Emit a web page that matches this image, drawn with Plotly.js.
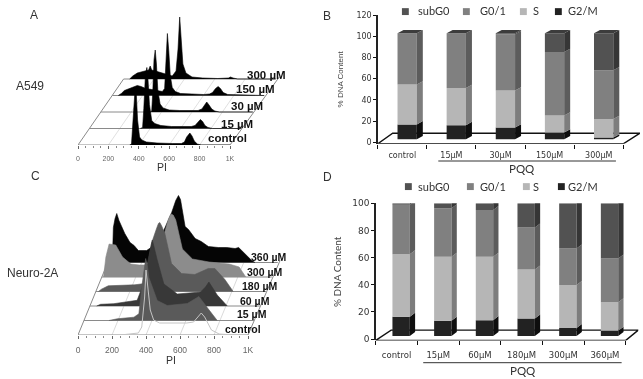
<!DOCTYPE html>
<html><head><meta charset="utf-8">
<script src="https://cdn.plot.ly/plotly-3.0.1.min.js"></script>
<style>html,body{margin:0;padding:0;background:#fff;overflow:hidden}#chart{width:643px;height:379px;filter:blur(0.55px)}</style>
</head><body><div id="chart"></div>
<script>
// ---------- Panel A histograms (A549): PI position, height ----------
const aLabels = ['control','15 µM','30 µM','150 µM','300 µM'];
const aControlPi = [340,352,360,370,376,384,392,405,420,450,520,620,680,700,715,736,750,765,785,810,1000];
const aControlN  = [0,1,20,50,57,50,25,8,5,3,2,1.5,1.5,3,8,12,9,4,1,0,0];
const a15Pi = [335,350,358,368,378,386,395,410,430,470,540,640,670,695,715,730,745,760,780,810,1000];
const a15N  = [0,1,20,52,61,48,24,8,5,3,2,2,2,3,7,9,7,3,1,0,0];
const a30Pi = [325,335,342,350,358,366,375,390,410,450,520,600,640,665,685,697,712,730,750,780,1000];
const a30N  = [0,1,20,52,62,48,22,8,4,2,1.5,1.5,1.5,3,8,10,7,3,1,0,0];
const a150Pi = [40,60,80,110,140,165,190,220,260,300,330,345,355,363,372,382,395,415,450,520,600,640,660,680,697,712,730,760,1000];
const a150N  = [0,2,5,7,9,10,9,7,6,5,4,7,35,62,45,20,8,4,2,1.5,1,1.5,3,7,9,7,3,1,0];
const a300Pi = [40,60,90,130,160,165,175,185,210,250,290,320,345,358,369,378,390,410,450,520,620,690,703,720,750,1000];
const a300N  = [0,3,6,8,9,9,13,9,8,6,4,3,8,30,62,40,15,6,2,1,0.5,1,2,1,0,0];

// ---------- Panel C histograms (Neuro-2A) ----------
const cLabels = ['control','15 µM','60 µM','180 µM','300 µM','360 µM'];
const cControlPi = [250,320,355,375,392,400,408,425,445,480,640,680,725,745,785,830,920];
const cControlN  = [0,1,2,8,38,65,52,25,15,12,12,13,22,18,5,1,0];
const c15Pi = [147,196,294,323,343,355,363,372,382,431,490,608,676,725,784];
const c15N  = [0,1.7,3.3,6.7,37,56,62,56,43,20,15,17,24,13,0];
const c60Pi = [40,63,141,278,308,347,358,367,376,396,435,514,651,680,700,720,749,808];
const c60N  = [0,1.7,2.3,5.7,19,52,62,66,60,46,22,12,14,19,24,19,11,0];
const c180Pi = [15,33,73,229,288,327,355,368,376,386,406,445,504,582,661,700,759,808];
const c180N  = [0,2.3,5.7,6.7,8,48,62,68,69,66,58,28,18,17,23,23,12,0];
const c300Pi = [10,24,43,82,122,171,220,278,337,376,392,406,420,435,474,533,631,749,808,847];
const c300N  = [0,20,33,32,20,13,12,12,25,47,58,63,62,57,28,18,15,13,10,0];
const c360Pi = [27,33,43,53,66,82,100,131,155,180,229,298,376,400,416,428,455,475,514,550,592,650,700,749,770,788,847,866];
const c360N  = [0,35,44,49,42,35,29,20,17,12,12,20,50,62,67,63,36,33,24,21,16,15,15,14,15,12,2,0];

// ---------- Panel B stacked bars ----------
const bCategories = ['control','15µM','30µM','150µM','300µM'];
const bG2M  = [14,13.3,11,6.3,1.6];
const bS    = [37.6,35,35,16,17.4];
const bG01  = [48.4,51.7,53,60,46];
const bSub  = [0,0,1,17.7,35];

// ---------- Panel D stacked bars ----------
const dCategories = ['control','15µM','60µM','180µM','300µM','360µM'];
const dG2M  = [14.6,11.6,12,13.3,6,4];
const dS    = [47,48.2,47.8,36.9,32.4,21.4];
const dG01  = [37.4,36.4,35.2,31.5,27.6,33.1];
const dSub  = [1,3.8,5,18.3,34,41.5];

const histTicks = [0,200,400,600,800,1000];
const histTickText = ['0','200','400','600','800','1K'];
const minorTicks = [0,50,100,150,200,250,300,350,400,450,500,550,600,650,700,750,800,850,900,950,1000];
const stackNames = ['G2/M','S','G0/1','subG0'];
const stackFront = ['#222222','#b6b6b6','#808080','#525252'];
const stackSide  = ['#0e0e0e','#7d7d7d','#5c5c5c','#363636'];
const lidColor = '#3c3c3c';

const W = 643, H = 379;
const fx = p => p / W, fy = p => 1 - p / H;
const traces = [], annotations = [], shapes = [];

function ridge(ax, ay, rows, dxUnits, dyUnits, colors, lineColors, gridColor, baseColor) {
  const n = rows.length;
  histTicks.forEach(t => {
    if (t === 0 || t === 1000) return;
    traces.push({type:'scatter',mode:'lines',xaxis:ax,yaxis:ay,hoverinfo:'skip',showlegend:false,
      x:[t, t + dxUnits*(n-1)], y:[0, dyUnits*(n-1)], line:{color:gridColor,width:0.8}});
  });
  traces.push({type:'scatter',mode:'lines',xaxis:ax,yaxis:ay,hoverinfo:'skip',showlegend:false,
    x:[0, dxUnits*(n-1)], y:[0, dyUnits*(n-1)], line:{color:baseColor,width:1}});
  traces.push({type:'scatter',mode:'lines',xaxis:ax,yaxis:ay,hoverinfo:'skip',showlegend:false,
    x:[1000, 1000 + dxUnits*(n-1)*1.08], y:[0, dyUnits*(n-1)*1.03], line:{color:baseColor,width:1}});
  for (let r = n-1; r >= 0; r--) {
    const row = rows[r];
    const x0 = r*dxUnits, y0 = r*dyUnits;
    traces.push({type:'scatter',mode:'lines',xaxis:ax,yaxis:ay,hoverinfo:'skip',showlegend:false,
      x:[x0, x0+1000], y:[y0,y0], line:{color:baseColor,width:1}});
    const xs = row.pi.map(v => v + x0), ys = row.n.map(v => v + y0);
    const t = {type:'scatter',mode:'lines',name:row.name,xaxis:ax,yaxis:ay,showlegend:false,
      x: xs, y: ys, line:{color:lineColors[r],width: colors[r] ? 0.6 : 1}};
    if (colors[r]) { t.fill='toself'; t.fillcolor=colors[r]; }
    traces.push(t);
  }
}

ridge('x','y',
  [{name:aLabels[0],pi:aControlPi,n:aControlN},{name:aLabels[1],pi:a15Pi,n:a15N},{name:aLabels[2],pi:a30Pi,n:a30N},
   {name:aLabels[3],pi:a150Pi,n:a150N},{name:aLabels[4],pi:a300Pi,n:a300N}],
  75, 16.5, ['#000','#000','#000','#000','#000'], ['#000','#000','#000','#000','#000'], '#d8d8d8', '#8a8a8a');

ridge('x3','y3',
  [{name:cLabels[0],pi:cControlPi,n:cControlN},{name:cLabels[1],pi:c15Pi,n:c15N},{name:cLabels[2],pi:c60Pi,n:c60N},
   {name:cLabels[3],pi:c180Pi,n:c180N},{name:cLabels[4],pi:c300Pi,n:c300N},{name:cLabels[5],pi:c360Pi,n:c360N}],
  35, 14.5, [null,'#5a5a5a','#383838','#5a5a5a','#8c8c8c','#050505'],
  ['#c4c4c4','#5a5a5a','#383838','#5a5a5a','#8c8c8c','#050505'], '#d0d0d0', '#8a8a8a');

function stacked(ax, ay, cats, series, opts) {
  const {shift, width, dx, dy, lift, scale} = opts;
  const idx = cats.map((_, i) => i);
  const cum = idx.map(() => lift);
  series.forEach((vals, s) => {
    const bases = cum.slice();
    const hts = vals.map(v => v * scale);
    traces.push({type:'bar',name:stackNames[s],xaxis:ax,yaxis:ay,showlegend:false,cliponaxis:false,
      x: idx.map(i => i + shift), y: hts, base: bases, width: width,
      marker:{color:stackFront[s],line:{width:0}}});
    const sx = [], sy = [];
    idx.forEach(i => {
      if (hts[i] <= 0) return;
      const xr = i + shift + width/2, a = bases[i], b = bases[i] + hts[i];
      sx.push(xr, xr+dx, xr+dx, xr, xr, null);
      sy.push(a, a+dy, b+dy, b, a, null);
    });
    traces.push({type:'scatter',mode:'lines',xaxis:ax,yaxis:ay,hoverinfo:'skip',showlegend:false,cliponaxis:false,
      x:sx,y:sy,fill:'toself',fillcolor:stackSide[s],line:{width:0,color:stackSide[s]}});
    idx.forEach(i => { cum[i] += hts[i]; });
  });
  const lx = [], ly = [];
  idx.forEach(i => {
    const xl = i + shift - width/2, xr = i + shift + width/2, t = cum[i];
    lx.push(xl, xl+dx, xr+dx, xr, xl, null);
    ly.push(t, t+dy, t+dy, t, t, null);
  });
  traces.push({type:'scatter',mode:'lines',xaxis:ax,yaxis:ay,hoverinfo:'skip',showlegend:false,cliponaxis:false,
    x:lx,y:ly,fill:'toself',fillcolor:lidColor,line:{width:0,color:lidColor}});
}
stacked('x2','y2',bCategories,[bG2M,bS,bG01,bSub],{shift:0.1,width:0.393,dx:0.122,dy:3.1,lift:2.8,scale:1});
stacked('x4','y4',dCategories,[dG2M,dS,dG01,dSub],{shift:0.11,width:0.417,dx:0.127,dy:2.95,lift:2.2,scale:0.978});

function floor(xr, yr, xl0, xl1, xr0, xr1, y0, y1) {
  shapes.push({type:'path',layer:'below',xref:xr,yref:yr,
    path:`M${xl0},${y0} L${xr0},${y0} L${xr1},${y1} L${xl1},${y1} Z`,
    line:{color:'#111',width:1.4},fillcolor:'rgba(0,0,0,0)'});
}
floor('x2','y2',-0.5,-0.195,4.5,4.84,-1.5,8.5);
floor('x4','y4',-0.5,-0.13,5.5,5.8,-1,6.6);

shapes.push({type:'line',xref:'x2',yref:'paper',x0:0.734,x1:4.35,y0:fy(161),y1:fy(161),line:{color:'#333',width:1}});
shapes.push({type:'line',xref:'x4',yref:'paper',x0:0.64,x1:5.4,y0:fy(362.7),y1:fy(362.7),line:{color:'#333',width:1}});

function label(text, x, y, size, opt) {
  annotations.push(Object.assign({text, xref:'paper', yref:'paper', x:fx(x), y:fy(y), showarrow:false,
    xanchor:'center', yanchor:'middle', borderpad:0,
    font:{family:'Liberation Sans, Arial, sans-serif', size, color:'#333'}}, opt||{}));
}
const bold = t => '<b>'+t+'</b>';
const blackFont = s => ({font:{family:'Liberation Sans, Arial, sans-serif', size:s, color:'#111'}});

label('A',34,15,12); label('B',327,16,12); label('C',35,176,12); label('D',327,177,12);
label('A549',30,86,12); label('Neuro-2A',32,273,12);
label('PI',162,167,10.5); label('PI',171,360,10.5);

[[227,138],[237,124],[247,106],[255,88.7],[266,75]].forEach((p,i)=>label(bold(aLabels[i]),p[0],p[1],11.5,blackFont(11.5)));
[[243,329],[252,314.3],[255,300.7],[259,286],[264,271.7],[268,257.3]].forEach((p,i)=>label(bold(cLabels[i]),p[0],p[1],10.5,blackFont(10.5)));

label('PQQ',522,168,11,{font:{family:'Lato, sans-serif',size:11.5,color:'#333'}});
label('PQQ',523,370,11,{font:{family:'Lato, sans-serif',size:11.5,color:'#333'}});

function legend(y, swatchX) {
  const names = ['subG0','G0/1','S','G2/M'];
  const colors = [stackFront[3],stackFront[2],stackFront[1],stackFront[0]];
  const textX = [416.7,479,532,567];
  names.forEach((nm,i) => {
    label('■',swatchX[i],y,9,{font:{family:'DejaVu Sans',size:9,color:colors[i]}});
    label(nm,textX[i],y,11,{xanchor:'left',font:{family:'Lato, sans-serif',size:11,color:'#333'}});
  });
}
legend(11,[405.7,466.7,523,558]);
legend(186,[408,470,526,561]);

const tickFontB = {family:'DejaVu Sans, sans-serif',size:8,color:'#333'};
const tickFontD = {family:'DejaVu Sans, sans-serif',size:9,color:'#333'};
const boundaries = n => Array.from({length:n+1},(_, i)=>i-0.5);

const layout = {
  width:W, height:H, margin:{l:0,r:0,t:0,b:0}, paper_bgcolor:'#fff', plot_bgcolor:'rgba(0,0,0,0)',
  showlegend:false, barmode:'overlay', shapes, annotations, hovermode:false,
  // A
  xaxis:{domain:[fx(78),fx(78+152*1.5)],range:[0,1500],anchor:'y',tickmode:'array',tickvals:histTicks,ticktext:histTickText,
    ticks:'outside',ticklen:3,tickcolor:'#666',showgrid:false,zeroline:false,showline:false,ticklabelstandoff:4,
    tickfont:{family:'Liberation Sans, Arial',size:7,color:'#666'},
    minor:{tickmode:'array',tickvals:minorTicks,ticks:'outside',ticklen:2,tickcolor:'#888',showgrid:false}},
  yaxis:{domain:[fy(145),fy(5)],range:[0,140],anchor:'x',visible:false},
  // B
  xaxis2:{domain:[fx(377.7),fx(640)],range:[-0.5,4.84],anchor:'y2',tickmode:'array',
    tickvals:bCategories.map((_, i)=>i),ticktext:bCategories,ticks:'',showgrid:false,zeroline:false,showline:false,
    tickfont:tickFontB,automargin:false,ticklabelstandoff:5,
    minor:{tickmode:'array',tickvals:boundaries(5),ticks:'outside',ticklen:4,tickcolor:'#111',showgrid:false}},
  yaxis2:{domain:[fy(143.8),fy(15)],range:[-1.5,120],anchor:'x2',tickmode:'array',tickvals:[0,20,40,60,80,100,120],
    ticks:'outside',ticklen:3,tickcolor:'#111',showgrid:false,zeroline:false,showline:true,linecolor:'#222',linewidth:1.4,
    tickfont:tickFontB,title:{text:'% DNA Content',standoff:11,font:{family:'Liberation Sans Narrow, Liberation Sans',size:8,color:'#444'}}},
  // C
  xaxis3:{domain:[fx(78),fx(78+170*1.25)],range:[0,1250],anchor:'y3',tickmode:'array',tickvals:histTicks,ticktext:histTickText,
    ticks:'outside',ticklen:3,tickcolor:'#666',showgrid:false,zeroline:false,showline:false,ticklabelstandoff:4,
    tickfont:{family:'Liberation Sans, Arial',size:8.5,color:'#666'},
    minor:{tickmode:'array',tickvals:minorTicks,ticks:'outside',ticklen:2,tickcolor:'#888',showgrid:false}},
  yaxis3:{domain:[fy(335),fy(185)],range:[0,150],anchor:'x3',visible:false},
  // D
  xaxis4:{domain:[fx(375.7),fx(638.3)],range:[-0.5,5.8],anchor:'y4',tickmode:'array',
    tickvals:dCategories.map((_, i)=>i),ticktext:dCategories,ticks:'',showgrid:false,zeroline:false,showline:false,ticklabelstandoff:8,
    tickfont:{family:'DejaVu Sans, sans-serif',size:8.5,color:'#333'},
    minor:{tickmode:'array',tickvals:boundaries(6),ticks:'outside',ticklen:4,tickcolor:'#111',showgrid:false}},
  yaxis4:{domain:[fy(340.4),fy(203.3)],range:[-1,100],anchor:'x4',tickmode:'array',tickvals:[0,20,40,60,80,100],
    ticks:'outside',ticklen:3,tickcolor:'#111',showgrid:false,zeroline:false,showline:true,linecolor:'#222',linewidth:1.4,
    tickfont:tickFontD,title:{text:'% DNA Content',standoff:9,font:{family:'Lato, sans-serif',size:10,color:'#444'}}}
};
Plotly.newPlot('chart',traces,layout,{displayModeBar:false,staticPlot:true});
</script></body></html>
